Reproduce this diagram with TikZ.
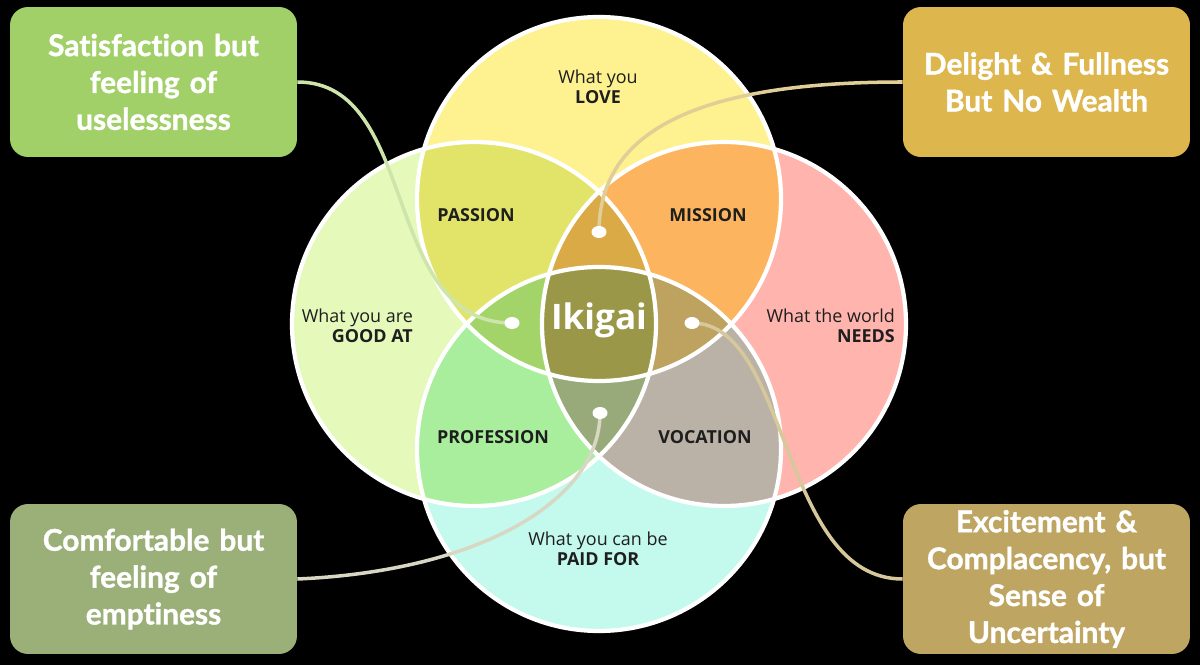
\documentclass[tikz,border=0pt]{standalone}
\usepackage{fontspec}
\setmainfont{Open Sans}
\newfontfamily\boxfont{Lato}[Ligatures=CommonOff, BoldFeatures={FakeBold=1.2}]
\usetikzlibrary{shapes.geometric}

\definecolor{loveclr}{RGB}{253,242,143}
\definecolor{goodclr}{RGB}{229,249,186}
\definecolor{needclr}{RGB}{255,180,174}
\definecolor{paidclr}{RGB}{196,249,238}
\definecolor{passionclr}{RGB}{226,228,106}
\definecolor{missionclr}{RGB}{253,180,95}
\definecolor{professionclr}{RGB}{168,238,156}
\definecolor{vocationclr}{RGB}{186,178,166}
\definecolor{lensT}{RGB}{218,170,70}
\definecolor{lensL}{RGB}{163,212,106}
\definecolor{lensR}{RGB}{190,162,96}
\definecolor{lensB}{RGB}{152,170,122}
\definecolor{ikigaiclr}{RGB}{154,151,72}
\definecolor{satclr}{RGB}{162,208,104}
\definecolor{delightclr}{RGB}{221,182,78}
\definecolor{comfclr}{RGB}{155,175,120}
\definecolor{exciteclr}{RGB}{191,165,98}
\definecolor{linkgreen}{RGB}{205,228,170}
\definecolor{linkgold}{RGB}{225,205,150}
\definecolor{linkgrey}{RGB}{215,215,195}
\definecolor{linkbrown}{RGB}{215,200,155}
\definecolor{labelclr}{RGB}{30,30,30}

\def\R{182}

\tikzstyle{notebox} = [rectangle, rounded corners=0.36cm, minimum width=5.74cm, minimum height=3cm, text width=5.6cm, align=center, text=white, inner sep=0pt, font=\boxfont\bfseries\fontsize{17}{21}\selectfont]
\tikzstyle{dot} = [ellipse, fill=white, minimum width=0.3cm, minimum height=0.24cm, inner sep=0pt]
\tikzstyle{ring} = [draw=white, line width=2.4pt]
\tikzstyle{link} = [line width=2pt]
\tikzstyle{area} = [text=labelclr, align=center, font=\fontsize{10.2}{11.3}\selectfont]
\tikzstyle{zone} = [text=labelclr, font=\bfseries\fontsize{10.2}{11.3}\selectfont]

\begin{document}
\begin{tikzpicture}[x=0.02cm, y=-0.02cm]
    \fill[black] (0,0) rectangle (1200,665);

    \coordinate (cT) at (599,199);
    \coordinate (cL) at (474,324);
    \coordinate (cR) at (724,324);
    \coordinate (cB) at (599,449);

    % circles
    \fill[loveclr] (cT) circle[radius=\R];
    \fill[goodclr] (cL) circle[radius=\R];
    \fill[needclr] (cR) circle[radius=\R];
    \fill[paidclr] (cB) circle[radius=\R];

    % two at a time
    \begin{scope}\clip (cT) circle[radius=\R];
        \fill[passionclr] (cL) circle[radius=\R];
        \fill[missionclr] (cR) circle[radius=\R];
    \end{scope}
    \begin{scope}\clip (cB) circle[radius=\R];
        \fill[professionclr] (cL) circle[radius=\R];
        \fill[vocationclr] (cR) circle[radius=\R];
    \end{scope}

    % three at a time
    \begin{scope}\clip (cT) circle[radius=\R]; \clip (cL) circle[radius=\R];
        \fill[lensT] (cR) circle[radius=\R];
        \fill[lensL] (cB) circle[radius=\R];
    \end{scope}
    \begin{scope}\clip (cB) circle[radius=\R]; \clip (cR) circle[radius=\R];
        \fill[lensR] (cT) circle[radius=\R];
        \fill[lensB] (cL) circle[radius=\R];
    \end{scope}

    % all four
    \begin{scope}\clip (cT) circle[radius=\R]; \clip (cL) circle[radius=\R]; \clip (cR) circle[radius=\R];
        \fill[ikigaiclr] (cB) circle[radius=\R];
    \end{scope}

    \foreach \c in {cT,cL,cR,cB}
        \draw[ring] (\c) circle[radius=\R];

    % labels
    \node (love) [area] at (598,87) {What you\\\textbf{LOVE}};
    \node (good) [area, anchor=east, align=right] at (419,326) {What you are\\\textbf{GOOD AT}};
    \node (needs) [area, anchor=east, align=right] at (901,326) {What the world\\\textbf{NEEDS}};
    \node (paid) [area] at (598,549) {What you can be\\\textbf{PAID FOR}};
    \node (passion) [zone] at (476,215) {PASSION};
    \node (mission) [zone] at (708,215) {MISSION};
    \node (profession) [zone] at (493,437) {PROFESSION};
    \node (vocation) [zone] at (705,437) {VOCATION};
    \node (ikigai) [text=white, font=\bfseries\fontsize{20}{24}\selectfont] at (599,320) {Ikigai};

    % outcome boxes
    \node (sat) [notebox, fill=satclr] at (153.5,82) {Satisfaction but\\feeling of\\uselessness};
    \node (delight) [notebox, fill=delightclr] at (1046.5,82) {Delight \& Fullness\\But No Wealth};
    \node (comf) [notebox, fill=comfclr] at (153.5,579) {Comfortable but\\feeling of\\emptiness};
    \node (excite) [notebox, fill=exciteclr] at (1046.5,579) {Excitement \&\\Complacency, but\\Sense of\\Uncertainty};

    \coordinate (dotT) at (599,232);
    \coordinate (dotL) at (512,323);
    \coordinate (dotR) at (692,323);
    \coordinate (dotB) at (600,413);

    \draw[link, linkgreen] (sat.east) .. controls +(123,0) and +(-132,0) .. (dotL);
    \draw[link, linkgold] (delight.west) .. controls +(-203,0) and +(0,-102) .. (dotT);
    \draw[link, linkgrey] (comf.east) .. controls +(183,-8) and +(0,87) .. (dotB);
    \draw[link, linkbrown] (excite.west) .. controls +(-123,0) and +(98,0) .. (dotR);

    \foreach \d in {dotT,dotL,dotR,dotB}
        \node[dot] at (\d) {};
\end{tikzpicture}
\end{document}
